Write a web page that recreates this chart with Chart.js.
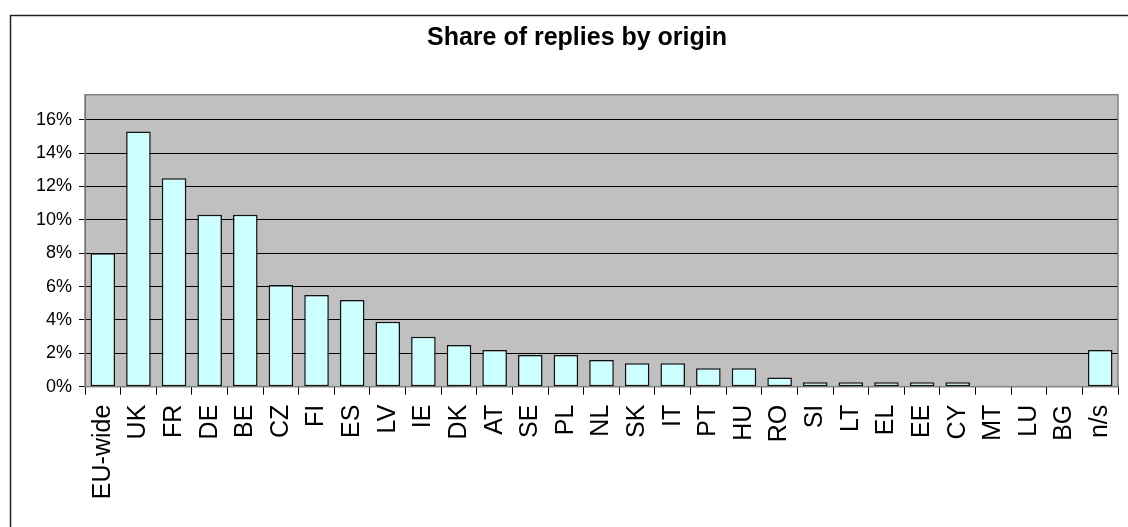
<!DOCTYPE html>
<html>
<head>
<meta charset="utf-8">
<script src="https://cdn.jsdelivr.net/npm/chart.js@4.4.0/dist/chart.umd.min.js"></script>
<style>
  html, body { margin: 0; padding: 0; background: #fff; }
  canvas { display: block; }
</style>
</head>
<body>
<canvas id="myChart" width="1128" height="527"></canvas>
<script>
// data
const categories = ['EU-wide', 'UK', 'FR', 'DE', 'BE', 'CZ', 'FI', 'ES', 'LV', 'IE', 'DK', 'AT', 'SE', 'PL',
  'NL', 'SK', 'IT', 'PT', 'HU', 'RO', 'SI', 'LT', 'EL', 'EE', 'CY', 'MT', 'LU', 'BG', 'n/s'];
const shares = [8.0, 15.3, 12.5, 10.3, 10.3, 6.1, 5.5, 5.2, 3.9, 3.0, 2.5, 2.2, 1.9, 1.9,
  1.6, 1.4, 1.4, 1.1, 1.1, 0.55, 0.27, 0.27, 0.27, 0.27, 0.27, 0, 0, 0, 2.2];
const yTicks = [0, 2, 4, 6, 8, 10, 12, 14, 16];
const yMax = 17.5;

const FONT = "'Liberation Sans', Arial, sans-serif";

// grey plot background + outer frame, like the old Excel chart
const frame = {
  id: 'frame',
  beforeDraw(chart) {
    const { ctx, chartArea: a } = chart;
    ctx.save();
    ctx.fillStyle = '#c0c0c0';
    ctx.fillRect(a.left, a.top, a.right - a.left, a.bottom - a.top);
    ctx.restore();
  },
  beforeDatasetsDraw(chart) {
    const { ctx, chartArea: a } = chart;
    ctx.save();
    ctx.strokeStyle = '#808080';
    ctx.lineWidth = 1.5;
    ctx.strokeRect(a.left, a.top, a.right - a.left, a.bottom - a.top);
    ctx.restore();
  },
  afterDraw(chart) {
    const ctx = chart.ctx;
    ctx.save();
    ctx.strokeStyle = '#222';
    ctx.lineWidth = 1.5;
    ctx.strokeRect(10.5, 15.5, 1300, 700);
    ctx.restore();
  }
};

const ctx = document.getElementById('myChart').getContext('2d');

const myChart = new Chart(ctx, {
  type: 'bar',
  data: {
    labels: categories,
    datasets: [{
      label: 'Share of replies',
      data: shares,
      backgroundColor: '#ccffff',
      borderColor: '#111',
      borderWidth: 1.5,
      borderSkipped: false,
      categoryPercentage: 1,
      barPercentage: 0.69
    }]
  },
  plugins: [frame],
  options: {
    responsive: false,
    animation: false,
    devicePixelRatio: 1,
    layout: { padding: { left: 36, right: 10, top: 0, bottom: 0 } },
    plugins: {
      legend: { display: false },
      tooltip: { enabled: false },
      title: {
        display: true,
        text: 'Share of replies by origin',
        color: '#000',
        font: { family: FONT, size: 25, weight: 'bold' },
        padding: { top: 23.6, bottom: 41.1 }
      }
    },
    scales: {
      x: {
        afterFit(scale) {
          scale.height = 140.3;
          scale.paddingLeft = 0;
          scale.paddingRight = 0;
        },
        grid: {
          drawOnChartArea: false,
          drawTicks: true,
          tickLength: 8,
          color: '#000',
          tickColor: '#000'
        },
        border: { display: true, color: '#000', width: 1 },
        ticks: {
          autoSkip: false,
          maxRotation: 90,
          minRotation: 90,
          padding: 10,
          color: '#000',
          font: { family: FONT, size: 25 }
        }
      },
      y: {
        min: 0,
        max: yMax,
        afterFit(scale) { scale.width = 49; },
        afterBuildTicks(scale) { scale.ticks = yTicks.map(v => ({ value: v })); },
        grid: {
          color: '#000',
          lineWidth: 1,
          tickLength: 6,
          tickColor: '#000'
        },
        border: { display: true, color: '#404040', width: 1 },
        ticks: {
          padding: 7,
          color: '#000',
          font: { family: FONT, size: 18 },
          callback: v => v + '%'
        }
      }
    }
  }
});
</script>
</body>
</html>
